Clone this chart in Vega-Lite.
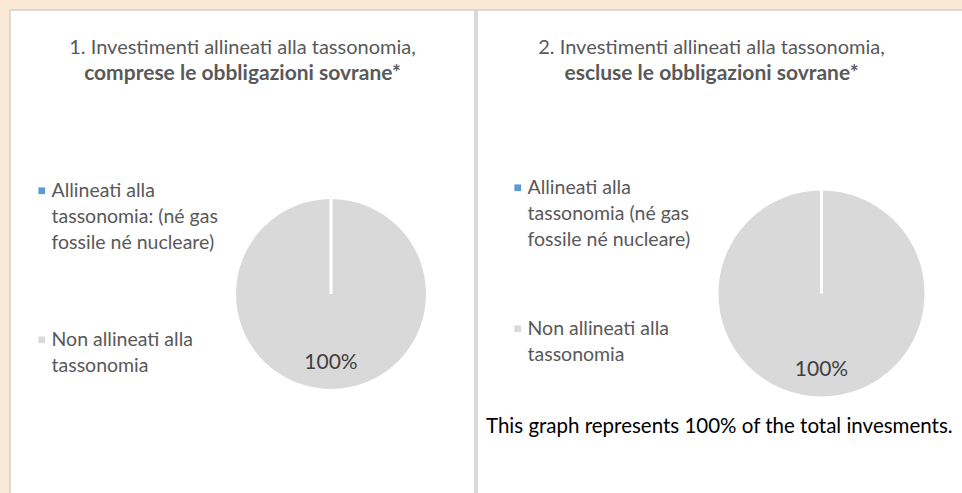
{
  "$schema": "https://vega.github.io/schema/vega-lite/v6.json",
  "background": "#fbe9d8",
  "padding": {"left": 9, "top": 9, "right": -6, "bottom": -6},
  "spacing": 0,
  "title": {
    "text": "This graph represents 100% of the total invesments.",
    "orient": "bottom", "anchor": "start", "frame": "bounds",
    "dx": 477, "offset": -82,
    "font": "Lato", "fontSize": 20.5, "fontWeight": "normal", "color": "#000000"
  },
  "hconcat": [
    {
      "width": 465,
      "height": 488,
      "view": {"fill": "white", "stroke": "#d9d9d9", "strokeWidth": 2, "strokeDash": [953, 465, 488]},
      "title": {
        "text": "1. Investimenti allineati alla tassonomia,",
        "subtitle": "comprese le obbligazioni sovrane*",
        "offset": -74, "anchor": "middle"
      },
      "data": {"values": [
        {"cat": "Non allineati alla tassonomia", "share": 1},
        {"cat": "Allineati alla tassonomia: (né gas fossile né nucleare)", "share": 0}
      ]},
      "layer": [
        {
          "mark": {"type": "arc", "x": 321, "y": 284, "outerRadius": 96.5, "stroke": "white", "strokeWidth": 3},
          "encoding": {
            "theta": {"field": "share", "type": "quantitative", "stack": true},
            "color": {
              "field": "cat", "type": "nominal",
              "scale": {"domain": ["Allineati alla tassonomia: (né gas fossile né nucleare)", "Non allineati alla tassonomia"], "range": ["#5b9bd5", "#d9d9d9"]},
              "legend": {
                "orient": "none", "legendX": 22, "legendY": 171, "title": null, "rowPadding": 76,
                "labelExpr": "datum.value == 'Non allineati alla tassonomia' ? ['Non allineati alla', 'tassonomia'] : ['Allineati alla', 'tassonomia: (né gas', 'fossile né nucleare)']"
              }
            }
          }
        },
        {
          "transform": [{"filter": "datum.share > 0"}],
          "mark": {"type": "text", "x": 321, "y": 284, "radius": 69, "font": "Lato", "fontSize": 21, "color": "#404040", "baseline": "middle"},
          "encoding": {
            "theta": {"field": "share", "type": "quantitative", "stack": true},
            "text": {"field": "share", "format": ".0%"}
          }
        }
      ]
    },
    {
      "width": 490,
      "height": 488,
      "view": {"fill": "white", "stroke": "#d9d9d9", "strokeWidth": 2, "strokeDash": [490, 978, 488]},
      "title": {
        "text": "2. Investimenti allineati alla tassonomia,",
        "subtitle": "escluse le obbligazioni sovrane*",
        "offset": -74, "anchor": "middle", "dx": -10.5
      },
      "data": {"values": [
        {"cat": "Non allineati alla tassonomia", "share": 1},
        {"cat": "Allineati alla tassonomia (né gas fossile né nucleare)", "share": 0}
      ]},
      "layer": [
        {
          "mark": {"type": "arc", "x": 344.5, "y": 283.5, "outerRadius": 104.5, "stroke": "white", "strokeWidth": 3},
          "encoding": {
            "theta": {"field": "share", "type": "quantitative", "stack": true},
            "color": {
              "field": "cat", "type": "nominal",
              "scale": {"domain": ["Allineati alla tassonomia (né gas fossile né nucleare)", "Non allineati alla tassonomia"], "range": ["#5b9bd5", "#d9d9d9"]},
              "legend": {
                "orient": "none", "legendX": 31, "legendY": 168, "title": null, "rowPadding": 68,
                "labelExpr": "datum.value == 'Non allineati alla tassonomia' ? ['Non allineati alla', 'tassonomia'] : ['Allineati alla', 'tassonomia (né gas', 'fossile né nucleare)']"
              }
            }
          }
        },
        {
          "transform": [{"filter": "datum.share > 0"}],
          "mark": {"type": "text", "x": 344.5, "y": 283.5, "radius": 76, "font": "Lato", "fontSize": 21, "color": "#404040", "baseline": "middle"},
          "encoding": {
            "theta": {"field": "share", "type": "quantitative", "stack": true},
            "text": {"field": "share", "format": ".0%"}
          }
        }
      ]
    }
  ],
  "resolve": {"scale": {"color": "independent", "theta": "independent"}, "legend": {"color": "independent"}},
  "config": {
    "font": "Lato",
    "title": {
      "font": "Lato", "fontSize": 20, "fontWeight": "normal", "color": "#595959",
      "subtitleFont": "Lato", "subtitleFontSize": 21, "subtitleFontWeight": "bold", "subtitleColor": "#595959", "subtitlePadding": 5
    },
    "legend": {
      "symbolType": "square", "symbolSize": 45, "symbolStrokeWidth": 0,
      "labelFont": "Lato", "labelFontSize": 19.5, "labelColor": "#595959", "labelLimit": 0, "labelOffset": 0
    },
    "style": {"guide-label": {"lineHeight": 26}}
  }
}
